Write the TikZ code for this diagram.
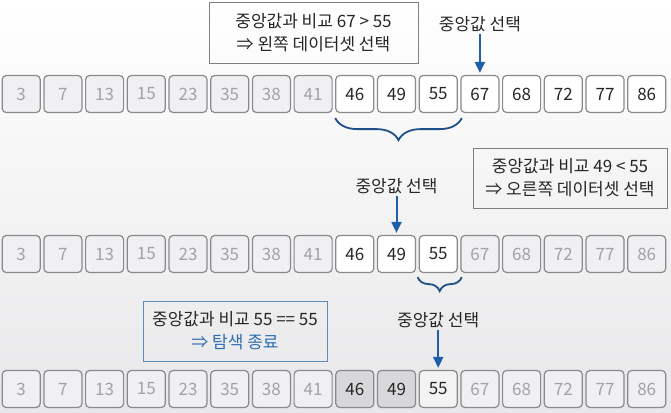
\documentclass[tikz,border=0pt]{standalone}
\usepackage{fontspec}
\setmainfont{Noto Sans CJK KR}
\usepackage{tikz}
\usetikzlibrary{arrows.meta,decorations.pathreplacing,calc}
\definecolor{cellline}{HTML}{8A8A8C}
\definecolor{idlefill}{HTML}{F0F0F2}
\definecolor{idletext}{HTML}{A2A2A4}
\definecolor{dimfill}{HTML}{D8D8DA}
\definecolor{hitfill}{HTML}{F3F3F4}
\definecolor{pickblue}{HTML}{1F5FAA}
\definecolor{bracenavy}{HTML}{1E4F88}
\definecolor{boxline}{HTML}{808080}
\definecolor{endline}{HTML}{5B8DB8}
\definecolor{endtext}{HTML}{2E6DB4}
\definecolor{bgbottom}{HTML}{E8E8EA}

\begin{document}
\begin{tikzpicture}[x=1pt,y=-1pt,
  cell/.style={draw=cellline,line width=1.2pt,rounded corners=4pt,minimum width=38pt,minimum height=37pt,inner sep=0pt,font=\fontsize{17}{20}\selectfont},
  idle/.style={fill=idlefill,text=idletext},
  live/.style={fill=white,text=black!85},
  dim/.style={fill=dimfill,text=black!85},
  hit/.style={fill=hitfill,text=black!85},
  note/.style={draw=boxline,line width=1pt,minimum height=60pt,align=center,font=\fontsize{17}{23}\selectfont,text=black!85},
  tag/.style={font=\fontsize{17}{20}\selectfont,text=black!85,inner sep=2pt},
  pick/.style={draw=pickblue,line width=2pt,-{Triangle[width=10pt,length=11pt]},shorten >=2pt},
  curly/.style={draw=bracenavy,line width=1.8pt,decorate,decoration={brace,mirror,amplitude=#1}}
]
\useasboundingbox (0,0) rectangle (671,412);
\shade[top color=white,bottom color=bgbottom] (0,0) rectangle (671,412);

\foreach \v [count=\i] in {3,7,13,15,23,35,38,41,46,49,55,67,68,72,77,86} {
  \ifnum\i<9 \def\st{idle}\else\def\st{live}\fi
  \node[cell,\st] (a\i) at ({21.2+41.7*(\i-1)},94) {\v};
  \ifnum\i<9 \def\st{idle}\else\ifnum\i>11 \def\st{idle}\else\def\st{live}\fi\fi
  \node[cell,\st] (b\i) at ({21.2+41.7*(\i-1)},254) {\v};
  \ifnum\i<9 \def\st{idle}\else\ifnum\i>11 \def\st{idle}\else\ifnum\i=11 \def\st{hit}\else\def\st{dim}\fi\fi\fi
  \node[cell,\st] (c\i) at ({21.2+41.7*(\i-1)},389) {\v};
}

\node[note,minimum width=209pt] (cmp1) at (313.5,33) {중앙값과 비교 67 > 55\\⇒ 왼쪽 데이터셋 선택};
\node[note,minimum width=194pt] (cmp2) at (570,178) {중앙값과 비교 49 < 55\\⇒ 오른쪽 데이터셋 선택};
\node[note,draw=endline,minimum width=184pt] (cmp3) at (235,331) {중앙값과 비교 55 == 55\\\textcolor{endtext}{⇒ 탐색 종료}};

\node[tag] (sel1) at (a12 |- 0,24) {중앙값 선택};
\node[tag] (sel2) at (b10 |- 0,186) {중앙값 선택};
\node[tag] (sel3) at (c11 |- 0,320) {중앙값 선택};
\draw[pick] (sel1) -- (a12);
\draw[pick] (sel2) -- (b10);
\draw[pick] (sel3) -- (c11);

\draw[curly=22pt] ($(a9.south west)+(0,5)$) -- ($(a11.south east)+(4,5)$);
\draw[curly=14pt] ($(b11.south west)+(-1,4)$) -- ($(b11.south east)+(4,4)$);
\end{tikzpicture}
\end{document}
